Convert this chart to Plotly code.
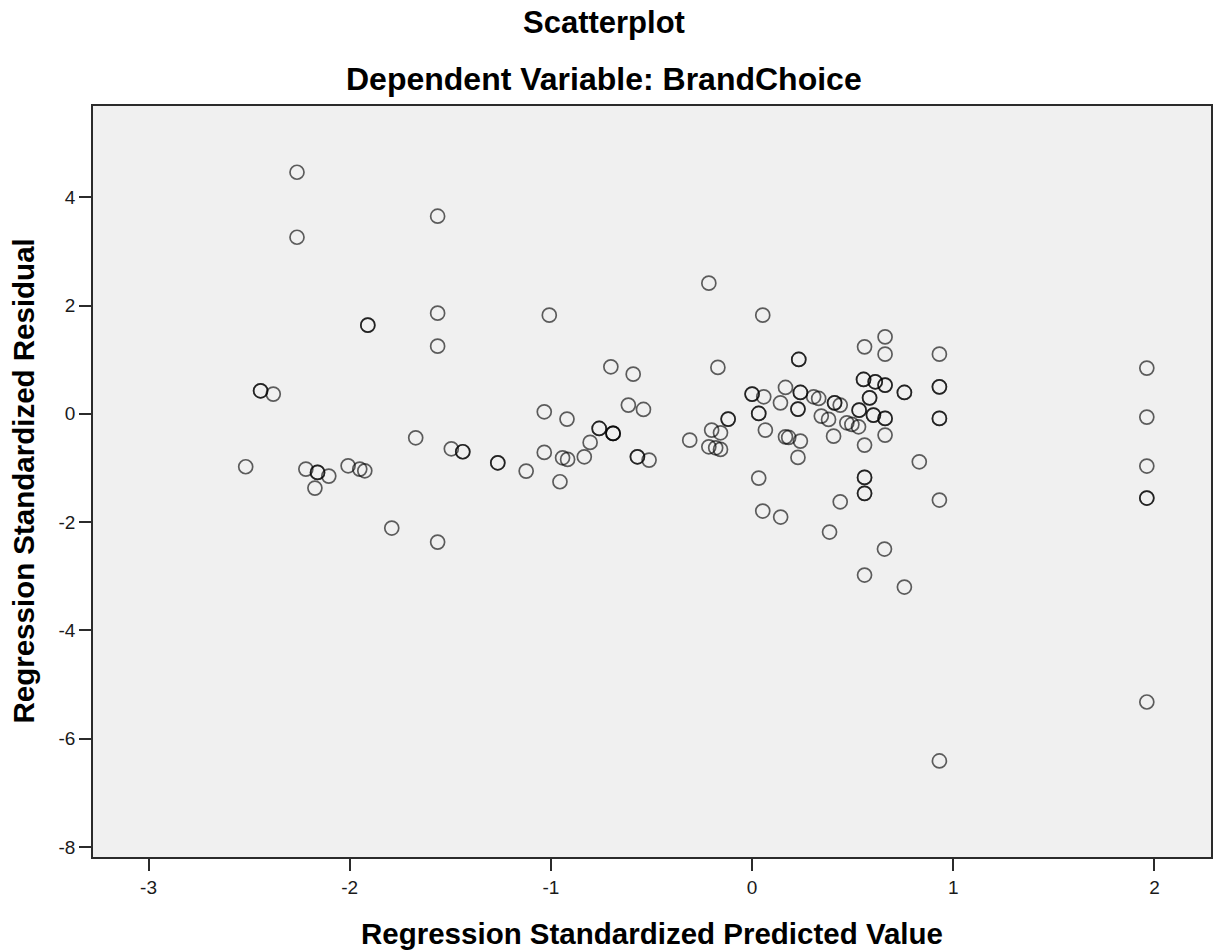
import plotly.graph_objects as go

# Regression standardized predicted value (x) and standardized residual (y)
pred = [
    -2.262, -2.262, -1.563, -1.563, -1.563, -1.910, -1.910,
    -2.443, -2.443, -2.380, -2.517, -2.218, -2.160, -2.160, -2.104, -2.173,
    -2.008, -1.950, -1.925, -1.672, -1.495, -1.438, -1.438, -1.791, -1.563,
    -1.264, -1.264, -1.123, -0.955, -1.033, -0.920, -1.033, -0.942, -0.917,
    -0.834, -0.805, -0.760, -0.760, -0.691, -0.691, -0.691, -0.702, -0.591,
    -0.615, -0.540, -0.570, -0.570, -0.512, -0.310, -0.170, -0.201, -0.157,
    -0.215, -0.181, -0.157, -0.119, -0.119, 0.000, 0.000, 0.033, 0.033,
    0.033, 0.058, 0.141, 0.066, 0.166, 0.232, 0.232, 0.240, 0.240, 0.228, 0.228,
    0.166, 0.182, 0.240, 0.228, 0.306, 0.331, 0.344, 0.410, 0.410, 0.438,
    0.405, 0.380, 0.471, 0.496, 0.529, 0.559, 0.661, 0.661, 0.554, 0.554,
    0.612, 0.612, 0.661, 0.661, 0.584, 0.584, 0.532, 0.532, 0.603, 0.603,
    0.661, 0.661, 0.661, 0.559, 0.559, 0.559, 0.559, 0.559, 0.757, 0.757,
    0.931, 0.931, 0.931, 0.931, 0.931, 0.831, 0.931, 0.053, 0.142, 0.385,
    0.438, 0.559, 0.658, 0.757, 0.931, 1.962, 1.962, 1.962, 1.962, 1.962, 1.962,
    -1.008, -0.215, 0.053,
]
resid = [
    4.461, 3.261, 3.650, 1.859, 1.250, 1.638, 1.638,
    0.425, 0.425, 0.364, -0.978, -1.021, -1.082, -1.082, -1.150, -1.372,
    -0.960, -1.021, -1.052, -0.443, -0.646, -0.701, -0.701, -2.110, -2.369,
    -0.905, -0.905, -1.058, -1.255, 0.037, -0.098, -0.713, -0.812, -0.842,
    -0.794, -0.528, -0.270, -0.270, -0.362, -0.362, -0.362, 0.868, 0.733,
    0.161, 0.081, -0.794, -0.794, -0.855, -0.486, 0.857, -0.301, -0.351,
    -0.609, -0.628, -0.657, -0.098, -0.098, 0.364, 0.364, 0.007, 0.007,
    -1.187, 0.314, 0.203, -0.301, 0.487, 1.004, 1.004, 0.395, 0.395, 0.087, 0.087,
    -0.425, -0.436, -0.504, -0.805, 0.314, 0.284, -0.042, 0.203, 0.203, 0.161,
    -0.412, -0.103, -0.166, -0.196, -0.240, 1.237, 1.421, 1.102, 0.635, 0.635,
    0.591, 0.591, 0.530, 0.530, 0.295, 0.295, 0.068, 0.068, -0.024, -0.024,
    -0.085, -0.085, -0.393, -0.578, -1.174, -1.174, -1.469, -1.469, 0.395, 0.395,
    1.102, 0.498, 0.498, -0.085, -0.085, -0.886, -1.593, -1.796, -1.907, -2.184,
    -1.625, -2.978, -2.498, -3.199, -6.411, 0.844, -0.061, -0.965, -1.556, -1.556, -5.322,
    1.822, 2.413, 1.822,
]

x_ticks = [-3, -2, -1, 0, 1, 2]
x_tick_labels = ["-3", "-2", "-1", "0", "1", "2"]
y_ticks = [-8, -6, -4, -2, 0, 2, 4]
y_tick_labels = ["-8", "-6", "-4", "-2", "0", "2", "4"]

title_main = "Scatterplot"
title_sub = "Dependent Variable: BrandChoice"
x_title = "Regression Standardized Predicted Value"
y_title = "Regression Standardized Residual"

FONT = "Liberation Sans, Arial, sans-serif"

fig = go.Figure(
    go.Scatter(
        x=pred,
        y=resid,
        mode="markers",
        marker=dict(
            symbol="circle-open",
            size=14,
            color="rgba(0,0,0,0.62)",
            line=dict(width=1.7, color="rgba(0,0,0,0.62)"),
        ),
        hoverinfo="x+y",
    )
)

axis_common = dict(
    showgrid=False,
    zeroline=False,
    showline=True,
    linecolor="#2b2b2b",
    linewidth=1.8,
    mirror=True,
    ticks="outside",
    ticklen=12,
    tickwidth=1.8,
    tickcolor="#2b2b2b",
    tickfont=dict(family=FONT, size=19, color="#1a1a1a"),
)

fig.update_xaxes(range=[-3.276, 2.281], tickvals=x_ticks, ticktext=x_tick_labels, **axis_common)
fig.update_yaxes(range=[-8.185, 5.685], tickvals=y_ticks, ticktext=y_tick_labels, **axis_common)

fig.update_layout(
    width=1217,
    height=951,
    margin=dict(l=93, r=4, t=106, b=94),
    paper_bgcolor="white",
    plot_bgcolor="#f0f0f0",
    showlegend=False,
    annotations=[
        dict(text="<b>%s</b>" % title_main, xref="paper", yref="paper",
             x=0.4571, y=1.0, yshift=84, xanchor="center", yanchor="middle",
             showarrow=False, font=dict(family=FONT, size=31, color="black")),
        dict(text="<b>%s</b>" % title_sub, xref="paper", yref="paper",
             x=0.4571, y=1.0, yshift=27, xanchor="center", yanchor="middle",
             showarrow=False, font=dict(family=FONT, size=32, color="black")),
        dict(text="<b>%s</b>" % x_title, xref="paper", yref="paper",
             x=0.5, y=0.0, yshift=-76, xanchor="center", yanchor="middle",
             showarrow=False, font=dict(family=FONT, size=29.5, color="black")),
        dict(text="<b>%s</b>" % y_title, xref="paper", yref="paper",
             x=0.0, xshift=-70, y=0.5, xanchor="center", yanchor="middle",
             textangle=-90, showarrow=False,
             font=dict(family=FONT, size=29.5, color="black")),
    ],
)

fig.write_html(
    "out.html",
    config={"displayModeBar": False},
    post_script="document.body.style.margin='0';document.body.style.overflow='hidden';",
)
